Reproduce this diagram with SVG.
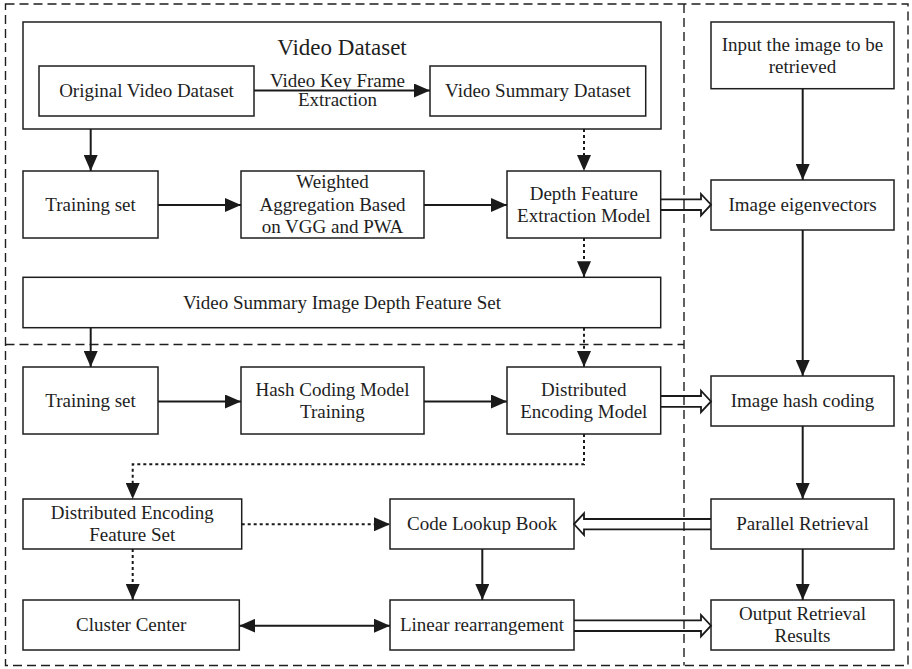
<svg xmlns="http://www.w3.org/2000/svg" width="912" height="669" viewBox="0 0 912 669">
<style>
.box{fill:#fff;stroke:#1e1e1e;stroke-width:1.5}
.t{font-family:"Liberation Serif","Times New Roman",serif;font-size:19px;fill:#1e1e1e;text-anchor:middle}
.title{font-size:23px}
.region{fill:none;stroke:#1e1e1e;stroke-width:1.4;stroke-dasharray:9 5}
.solid{fill:none;stroke:#1a1a1a;stroke-width:2;marker-end:url(#ah)}
.dot{fill:none;stroke:#1a1a1a;stroke-width:2;stroke-dasharray:3 3;marker-end:url(#ah)}
.hollow{fill:none;stroke:#1a1a1a;stroke-width:1.8;stroke-linejoin:miter}
</style>
<defs>
<marker id="ah" markerWidth="16" markerHeight="14" refX="16" refY="7" orient="auto-start-reverse" markerUnits="userSpaceOnUse">
<path d="M0,0 L16,7 L0,14 Z" fill="#1a1a1a"/>
</marker>
</defs>
<rect width="912" height="669" fill="#fff"/>
<g id="regions">
<rect class="region" x="5.5" y="4" width="902.5" height="661.5"/>
<line class="region" x1="684" y1="4" x2="684" y2="665.5"/>
<line class="region" x1="5.5" y1="344.5" x2="684" y2="344.5"/>
</g>
<g id="video-dataset">
<rect class="box" x="23" y="22" width="638" height="107"/>
<text class="t title" x="342" y="54.5">Video Dataset</text>
</g>
<g id="original-video-dataset">
<rect class="box" x="39" y="66" width="215" height="50"/>
<text class="t" x="146.5" y="97.3">Original Video Dataset</text>
</g>
<g id="video-summary-dataset">
<rect class="box" x="430" y="66" width="215.7" height="50"/>
<text class="t" x="537.9" y="97.3">Video Summary Dataset</text>
</g>
<g id="training-set-1">
<rect class="box" x="23" y="171" width="135" height="67"/>
<text class="t" x="90.5" y="210.8">Training set</text>
</g>
<g id="weighted-aggregation">
<rect class="box" x="241" y="171" width="183" height="67"/>
<text class="t" x="332.5" y="188.3">Weighted</text>
<text class="t" x="332.5" y="210.8">Aggregation Based</text>
<text class="t" x="332.5" y="233.3">on VGG and PWA</text>
</g>
<g id="depth-feature-model">
<rect class="box" x="507" y="171" width="153.7" height="67"/>
<text class="t" x="583.8" y="199.8">Depth Feature</text>
<text class="t" x="583.8" y="221.8">Extraction Model</text>
</g>
<g id="input-image">
<rect class="box" x="711" y="22" width="183" height="66.7"/>
<text class="t" x="802.5" y="50.6">Input the image to be</text>
<text class="t" x="802.5" y="72.6">retrieved</text>
</g>
<g id="image-eigenvectors">
<rect class="box" x="711" y="180" width="183" height="50"/>
<text class="t" x="802.5" y="211.3">Image eigenvectors</text>
</g>
<g id="depth-feature-set">
<rect class="box" x="23" y="277.3" width="637.7" height="50.4"/>
<text class="t" x="342" y="308.8">Video Summary Image Depth Feature Set</text>
</g>
<g id="training-set-2">
<rect class="box" x="23" y="367" width="135" height="67"/>
<text class="t" x="90.5" y="406.8">Training set</text>
</g>
<g id="hash-coding-training">
<rect class="box" x="241" y="367" width="183" height="67"/>
<text class="t" x="332.5" y="395.8">Hash Coding Model</text>
<text class="t" x="332.5" y="417.8">Training</text>
</g>
<g id="distributed-encoding-model">
<rect class="box" x="507" y="367" width="153.7" height="67"/>
<text class="t" x="583.8" y="395.8">Distributed</text>
<text class="t" x="583.8" y="417.8">Encoding Model</text>
</g>
<g id="image-hash-coding">
<rect class="box" x="711" y="376" width="183" height="50"/>
<text class="t" x="802.5" y="407.3">Image hash coding</text>
</g>
<g id="distributed-feature-set">
<rect class="box" x="23" y="499" width="218.7" height="50"/>
<text class="t" x="132.3" y="519.3">Distributed Encoding</text>
<text class="t" x="132.3" y="541.3">Feature Set</text>
</g>
<g id="code-lookup-book">
<rect class="box" x="390" y="499" width="184" height="50"/>
<text class="t" x="482" y="530.3">Code Lookup Book</text>
</g>
<g id="parallel-retrieval">
<rect class="box" x="711" y="499" width="183" height="50"/>
<text class="t" x="802.5" y="530.3">Parallel Retrieval</text>
</g>
<g id="cluster-center">
<rect class="box" x="23" y="600" width="216.3" height="50"/>
<text class="t" x="131.2" y="631.3">Cluster Center</text>
</g>
<g id="linear-rearrangement">
<rect class="box" x="390" y="600" width="184" height="50"/>
<text class="t" x="482" y="631.3">Linear rearrangement</text>
</g>
<g id="output-results">
<rect class="box" x="711" y="600" width="183" height="50"/>
<text class="t" x="802.5" y="620.3">Output Retrieval</text>
<text class="t" x="802.5" y="642.3">Results</text>
</g>
<g id="connectors">
<line class="solid" x1="254" y1="90.5" x2="430" y2="90.5"/>
<text class="t" x="337.5" y="86.7">Video Key Frame</text>
<text class="t" x="337.5" y="106">Extraction</text>
<line class="solid" x1="90.7" y1="129" x2="90.7" y2="171"/>
<line class="dot" x1="584" y1="129" x2="584" y2="171"/>
<line class="solid" x1="158" y1="205" x2="241" y2="205"/>
<line class="solid" x1="424" y1="205" x2="507" y2="205"/>
<line class="dot" x1="584" y1="238" x2="584" y2="277.3"/>
<line class="solid" x1="90.7" y1="327.7" x2="90.7" y2="367"/>
<line class="dot" x1="584" y1="327.7" x2="584" y2="367"/>
<line class="solid" x1="158" y1="401.5" x2="241" y2="401.5"/>
<line class="solid" x1="424" y1="401.5" x2="507" y2="401.5"/>
<polyline class="dot" points="584,434 584,464.3 132.7,464.3 132.7,499"/>
<line class="dot" x1="241.7" y1="524.3" x2="390" y2="524.3"/>
<line class="dot" x1="132.7" y1="549" x2="132.7" y2="600"/>
<line class="solid" style="marker-start:url(#ah)" x1="239.3" y1="625.7" x2="390" y2="625.7"/>
<line class="solid" x1="482.3" y1="549" x2="482.3" y2="600"/>
<line class="solid" x1="802.7" y1="88.7" x2="802.7" y2="180"/>
<line class="solid" x1="802.7" y1="230" x2="802.7" y2="376"/>
<line class="solid" x1="802.7" y1="426" x2="802.7" y2="499"/>
<line class="solid" x1="802.7" y1="549" x2="802.7" y2="600"/>
<path class="hollow" d="M660.7,199.3 L701,199.3 L701,194 L711,204.7 L701,215.4 L701,210 L660.7,210"/>
<path class="hollow" d="M660.7,396 L701,396 L701,390.7 L711,401.4 L701,412.1 L701,406.8 L660.7,406.8"/>
<path class="hollow" d="M711,519 L584,519 L584,513.3 L574,524.1 L584,535 L584,529.3 L711,529.3"/>
<path class="hollow" d="M574,620.3 L701,620.3 L701,615 L711,625.7 L701,636.4 L701,631 L574,631"/>
</g>
</svg>
